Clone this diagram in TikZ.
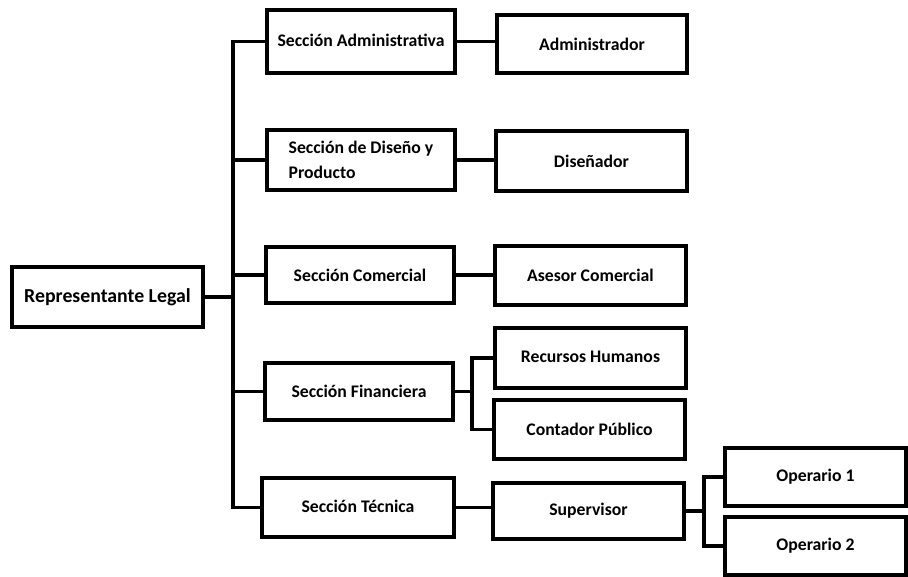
\documentclass[tikz,border=0pt]{standalone}
\usepackage{fontspec}
\setmainfont{Carlito}
\begin{document}
\begin{tikzpicture}[x=1pt,y=-1pt,
  box/.style={draw=black, line width=3.5pt, fill=white, inner sep=0pt, align=center, font=\bfseries\fontsize{17.7}{25}\selectfont},
  conn/.style={draw=black, line width=3.5pt}]
\useasboundingbox (0,0) rectangle (908,576);
\fill[white] (0,0) rectangle (908,576);
% nodes
\node[box, minimum width=191pt, minimum height=60pt, font=\bfseries\fontsize{19.8}{25}\selectfont] (rep) at (107.5,297) {\raisebox{2pt}{Representante Legal}};
\node[box, minimum width=188pt, minimum height=63pt] (adm) at (361,41.5) {\raisebox{3pt}{Sección Administrativa}};
\node[box, minimum width=188pt, minimum height=60pt, align=left] (dis) at (361,160) {Sección de Diseño y\\Producto};
\node[box, minimum width=188pt, minimum height=56pt] (com) at (360,275) {Sección Comercial};
\node[box, minimum width=188pt, minimum height=57pt] (fin) at (359,391.5) {Sección Financiera};
\node[box, minimum width=192pt, minimum height=59pt] (tec) at (358,507.5) {\raisebox{2pt}{Sección Técnica}};
\node[box, minimum width=190pt, minimum height=58pt] (admr) at (592,44) {Administrador};
\node[box, minimum width=191pt, minimum height=60pt] (disr) at (591.5,161) {Diseñador};
\node[box, minimum width=191pt, minimum height=59pt] (ase) at (590.5,275.5) {Asesor Comercial};
\node[box, minimum width=191pt, minimum height=60pt] (rh) at (590.5,358) {\raisebox{3pt}{Recursos Humanos}};
\node[box, minimum width=191pt, minimum height=59pt] (cp) at (589.5,429.5) {Contador Público};
\node[box, minimum width=191pt, minimum height=56pt] (sup) at (588.5,511) {\raisebox{3pt}{Supervisor}};
\node[box, minimum width=181pt, minimum height=58pt] (op1) at (815.5,477) {Operario 1};
\node[box, minimum width=181pt, minimum height=58pt] (op2) at (815.5,546) {Operario 2};
% connectors
\coordinate (tk) at (233,0);
\coordinate (fb) at (472,0);
\coordinate (sb) at (704,0);
\draw[conn] (rep.east) -- (rep.east -| tk);
\draw[conn] (adm.west) -- (adm.west -| tk) -- (tec.west -| tk) -- (tec.west);
\draw[conn] (dis.west) -- (dis.west -| tk);
\draw[conn] (com.west) -- (com.west -| tk);
\draw[conn] (fin.west) -- (fin.west -| tk);
\draw[conn] (adm.east) -- (adm.east -| admr.west);
\draw[conn] (dis.east) -- (dis.east -| disr.west);
\draw[conn] (com.east) -- (com.east -| ase.west);
\draw[conn] (fin.east) -- (fin.east -| fb);
\draw[conn] (rh.west) -- (rh.west -| fb) -- (cp.west -| fb) -- (cp.west);
\draw[conn] (tec.east) -- (tec.east -| sup.west);
\draw[conn] (sup.east) -- (sup.east -| sb);
\draw[conn] (op1.west) -- (op1.west -| sb) -- (op2.west -| sb) -- (op2.west);
\end{tikzpicture}
\end{document}
